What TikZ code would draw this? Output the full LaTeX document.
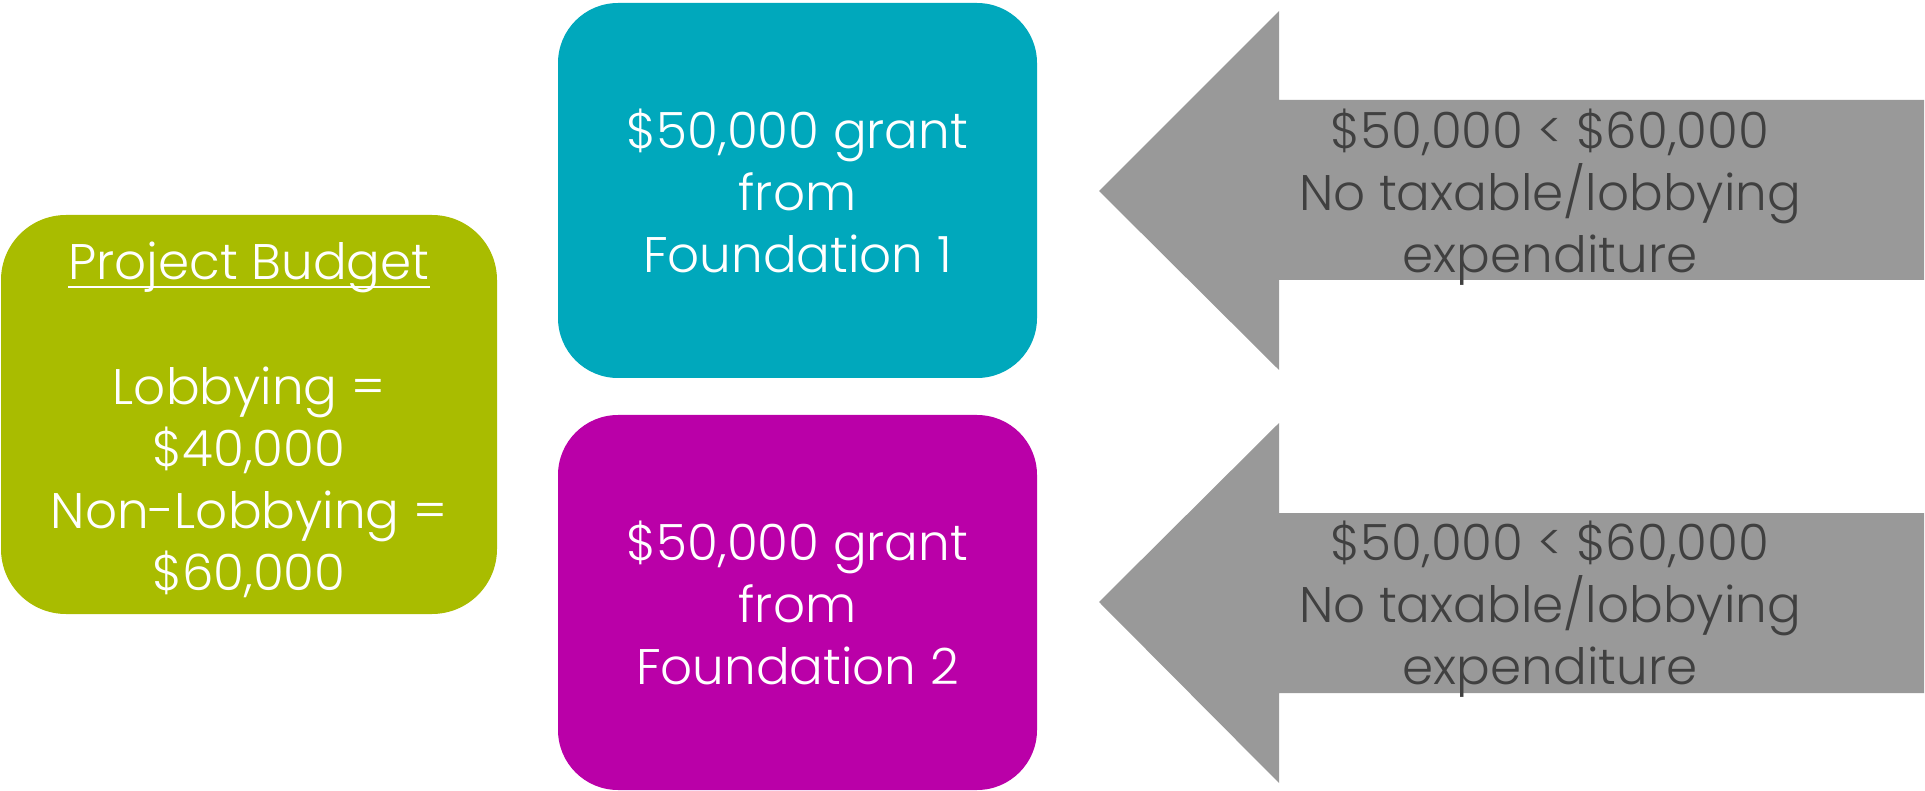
\documentclass[tikz,border=0pt]{standalone}
\usepackage{fontspec}
\setmainfont{Poppins}[UprightFont={* Light}]
\definecolor{budgetgreen}{RGB}{169,188,0}
\definecolor{foundteal}{RGB}{0,168,188}
\definecolor{foundmagenta}{RGB}{186,0,168}
\definecolor{arrowgray}{RGB}{153,153,153}
\definecolor{arrowtext}{RGB}{64,64,64}
\begin{document}
\begin{tikzpicture}[x=1pt,y=-1pt,
  box/.style={rounded corners=60pt, inner sep=0pt, minimum width=479pt, minimum height=375pt},
  txt/.style={font=\fontsize{50}{62}\selectfont, align=center, inner sep=0pt},
  whitetxt/.style={txt, text=white},
  graytxt/.style={txt, text=arrowtext},
  arrowshape/.style={fill=arrowgray, draw=none},
]
\useasboundingbox (0,0) rectangle (1925,791);

% left budget box
\node[box, fill=budgetgreen, minimum width=496pt, minimum height=399pt, rounded corners=65pt] (budget) at (249,414.5) {};
\node[whitetxt, anchor=base] (title) at (249,280) {Project Budget};
\draw[white, line width=2pt] ([yshift=-7pt]title.base west) -- ([yshift=-7pt]title.base east);
\node[whitetxt] (budgettext) at (249,482) {Lobbying =\\\$40,000\\Non-Lobbying =\\\$60,000};

% foundation boxes
\node[box, fill=foundteal] (f1) at (797.5,190.5) {};
\node[whitetxt] (f1text) at (797.5,190.5) {\$50,000 grant\\from\\Foundation 1};
\node[box, fill=foundmagenta] (f2) at (797.5,602.5) {};
\node[whitetxt] (f2text) at (797.5,602.5) {\$50,000 grant\\from\\Foundation 2};

% arrows
\fill[arrowshape] (1924,100) -- (1279,100) -- (1279,11) -- (1099,191) -- (1279,370) -- (1279,280) -- (1924,280) -- cycle;
\node[graytxt] (a1text) at (1550,197) {\$50,000 < \$60,000\\No taxable/lobbying\\expenditure};
\fill[arrowshape] (1924,513) -- (1279,513) -- (1279,423) -- (1099,602) -- (1279,783) -- (1279,693) -- (1924,693) -- cycle;
\node[graytxt] (a2text) at (1550,609) {\$50,000 < \$60,000\\No taxable/lobbying\\expenditure};
\end{tikzpicture}
\end{document}
